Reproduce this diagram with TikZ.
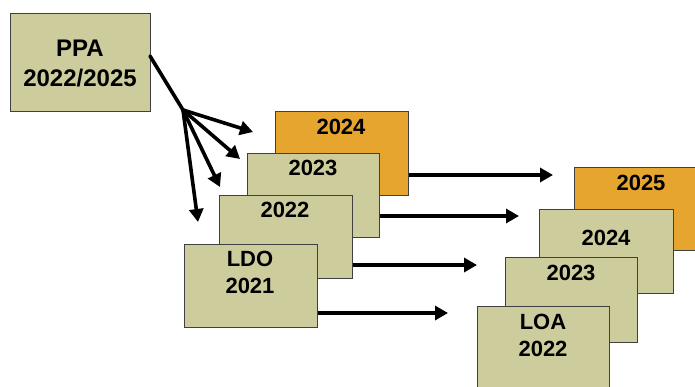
\documentclass[tikz,border=0pt]{standalone}
\usepackage{fontspec}
\setmainfont{Liberation Sans}
\usetikzlibrary{arrows.meta}
\definecolor{khaki}{HTML}{CCCC9C}
\definecolor{gold}{HTML}{E6A52E}
\definecolor{edge}{HTML}{404040}
\tikzset{
  box/.style={draw=edge, line width=1.1pt, fill=khaki, rectangle, inner sep=0pt, anchor=north west},
  obox/.style={box, fill=gold},
  yr/.style={font=\bfseries\fontsize{22}{27}\selectfont, inner sep=0pt},
  bigtxt/.style={font=\bfseries\fontsize{24}{30}\selectfont, align=center, inner sep=0pt},
  arr/.style={line width=3.6pt, -{Triangle[length=13pt,width=14pt]}},
  ln/.style={line width=3.6pt}
}
\begin{document}
\begin{tikzpicture}[x=1pt,y=-1pt]
\clip (0,0) rectangle (695,387);
\fill[white] (0,0) rectangle (695,387);
% PPA
\node[box, minimum width=140pt, minimum height=98pt] (ppa) at (10,13) {};
\node[bigtxt] (ppat) at (80,63) {PPA\\2022/2025};
% fan
\coordinate (hub) at (183,110);
\coordinate (f1) at (253,132);
\coordinate (f2) at (240,159);
\coordinate (f3) at (220,187);
\coordinate (f4) at (198,222);
\coordinate (ppaout) at (150,56);
\draw[ln, line cap=round] (ppaout) -- (hub);
\draw[arr] (hub) -- (f1);
\draw[arr] (hub) -- (f2);
\draw[arr] (hub) -- (f3);
\draw[arr] (hub) -- (f4);
% left stack
\node[obox, minimum width=133pt, minimum height=84pt] (l24) at (275,111) {};
\node[yr] (l24t) at (341,127) {2024};
\node[box, minimum width=132pt, minimum height=84pt] (l23) at (247,153) {};
\node[yr] (l23t) at (313,168) {2023};
\node[box, minimum width=133pt, minimum height=83pt] (l22) at (219,195) {};
\node[yr] (l22t) at (285,210) {2022};
\node[box, minimum width=133pt, minimum height=83pt] (l21) at (184,244) {};
\node[yr, align=center, font=\bfseries\fontsize{22}{27}\selectfont] (l21t) at (250,272.5) {LDO\\2021};
% right stack
\node[obox, minimum width=133pt, minimum height=83pt] (r25) at (574,167) {};
\node[yr] (r25t) at (641,183) {2025};
\node[box, minimum width=134pt, minimum height=84pt] (r24) at (539,209) {};
\node[yr] (r24t) at (606,238) {2024};
\node[box, minimum width=132pt, minimum height=85pt] (r23) at (505,257) {};
\node[yr] (r23t) at (571,273) {2023};
\node[box, minimum width=132pt, minimum height=85pt] (r22) at (477,306) {};
\node[yr, align=center] (r22t) at (543,335.5) {LOA\\2022};
% horizontal arrows
\coordinate (a1) at (553,175);
\coordinate (a2) at (519,216);
\coordinate (a3) at (477,265);
\coordinate (a4) at (448,313);
\draw[arr] (l24.east |- a1) -- (a1);
\draw[arr] (l23.east |- a2) -- (a2);
\draw[arr] (l22.east |- a3) -- (a3);
\draw[arr] (l21.east |- a4) -- (a4);
\end{tikzpicture}
\end{document}
